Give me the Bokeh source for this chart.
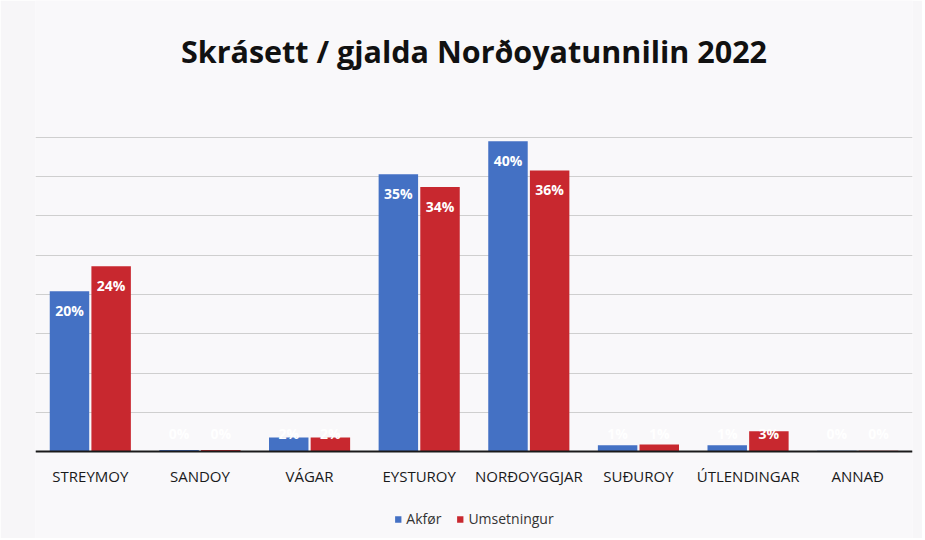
from bokeh.plotting import figure
from bokeh.models import (ColumnDataSource, FactorRange, Range1d, Legend, LegendItem,
                          Label, Span, SingleIntervalTicker)
from bokeh.transform import dodge
from bokeh.embed import file_html
from bokeh.resources import INLINE
from bokeh.core.properties import value

title_text = "Skrásett / gjalda Norðoyatunnilin 2022"
categories = ["STREYMOY", "SANDOY", "VÁGAR", "EYSTUROY", "NORÐOYGGJAR",
              "SUÐUROY", "ÚTLENDINGAR", "ANNAÐ"]
series_names = ["Akfør", "Umsetningur"]
akfor = [20.4, 0.2, 1.8, 35.3, 39.5, 0.8, 0.8, 0.1]
umsetningur = [23.6, 0.2, 1.8, 33.7, 35.8, 0.9, 2.6, 0.1]

BLUE = "#4471c4"
RED = "#c8282f"
FONT = "Open Sans"

# plot geometry (pixels)
FW, FH = 877, 538          # frame covers the whole drawing height
PX_PER_UNIT = 7.86          # vertical scale: 5 % per grid step of ~39 px
TOP_PAD, BOTTOM_PAD = 137, 87   # space above the 40 % line / below the 0 line
Y_MAX = 40
Y_TOP = Y_MAX + TOP_PAD / PX_PER_UNIT
Y_BOTTOM = -BOTTOM_PAD / PX_PER_UNIT


def pct(v):
    return "%d%%" % int(round(v))


def label_y(v):
    return max(v, 4.8)


src = ColumnDataSource(dict(
    cat=categories,
    akfor=akfor,
    umset=umsetningur,
    akfor_lbl=[pct(v) for v in akfor],
    umset_lbl=[pct(v) for v in umsetningur],
    akfor_ly=[label_y(v) for v in akfor],
    umset_ly=[label_y(v) for v in umsetningur],
    zero=[0] * len(categories),
))

p = figure(x_range=FactorRange(factors=categories), y_range=Range1d(Y_BOTTOM, Y_TOP),
           frame_width=FW, frame_height=FH, output_backend="svg", toolbar_location=None,
           x_axis_location=None, y_axis_location=None,
           min_border_left=35, min_border_right=10, min_border_top=0,
           min_border_bottom=0)

p.border_fill_color = "#f7f6f8"
p.background_fill_color = "#f9f8fa"
p.outline_line_color = None
p.x_range.range_padding = 0

# grid lines every 5 %, only over the value range
p.xgrid.grid_line_color = None
p.ygrid.ticker = SingleIntervalTicker(interval=5)
p.ygrid.bounds = (0, Y_MAX)
p.ygrid.grid_line_color = "#cfcfcf"
p.ygrid.grid_line_width = 1

r1 = p.vbar(x=dodge("cat", -0.19, range=p.x_range), top="akfor", width=0.36,
            source=src, fill_color=BLUE, line_color=None)
r2 = p.vbar(x=dodge("cat", 0.19, range=p.x_range), top="umset", width=0.36,
            source=src, fill_color=RED, line_color=None)

# baseline (category axis line)
p.add_layout(Span(location=0, dimension="width", line_color="#1a1a1a", line_width=2))

# data labels
for off, col, ycol in [(-0.19, "akfor_lbl", "akfor_ly"), (0.19, "umset_lbl", "umset_ly")]:
    p.text(x=dodge("cat", off, range=p.x_range), y=ycol, text=col, source=src,
           text_color="white", text_font=value(FONT), text_font_style="bold",
           text_font_size="14px", text_align="center", text_baseline="top",
           y_offset=10)

# category labels under the baseline
p.text(x="cat", y="zero", text="cat", source=src, text_color="#1a1a1a",
       text_font=value(FONT), text_font_size="15px", text_align="center",
       text_baseline="middle", y_offset=24)

legend = Legend(items=[LegendItem(label=series_names[0], renderers=[r1]),
                       LegendItem(label=series_names[1], renderers=[r2])],
                orientation="horizontal", location="bottom_center",
                label_text_font=FONT, label_text_font_size="14px",
                label_text_color="#333333", padding=4,
                glyph_width=8, glyph_height=8, spacing=14,
                border_line_color=None, background_fill_alpha=0, margin=10)
p.add_layout(legend, "center")

p.add_layout(Label(x=FW / 2, y=FH - 50, x_units="screen", y_units="screen",
                   text=title_text, text_align="center", text_baseline="middle",
                   text_font=FONT, text_font_style="bold", text_font_size="30.5px",
                   text_color="#111111"))

open("out.html", "w").write(file_html(p, INLINE))
